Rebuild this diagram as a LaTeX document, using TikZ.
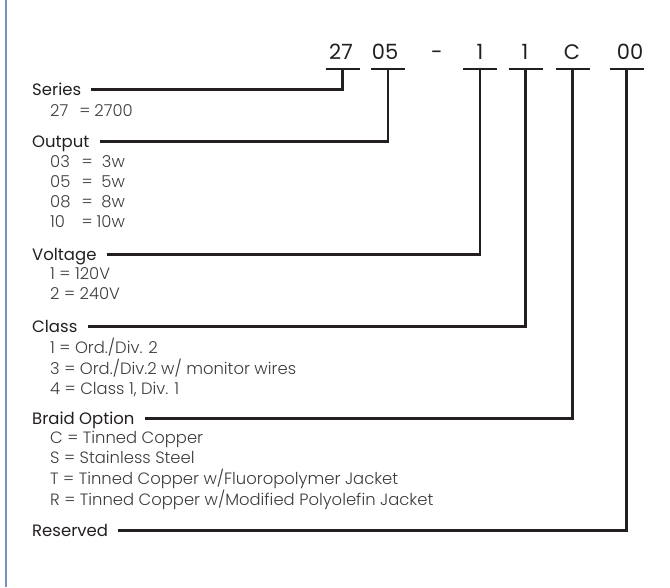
\documentclass[tikz,border=0pt]{standalone}
\usepackage{fontspec}
\setmainfont{Poppins}
\newfontfamily\lightfont{Poppins Light}
\definecolor{ink}{HTML}{231F20}
\definecolor{itemgray}{HTML}{3C3C3C}
\definecolor{edge}{HTML}{7A8FC9}
\begin{document}
\begin{tikzpicture}[x=1pt,y=-1pt,
  codetext/.style={font=\fontsize{21}{24}\selectfont, text=ink, anchor=base, inner sep=0pt},
  hdr/.style={font=\fontsize{16.5}{18}\selectfont, text=ink, anchor=base west, inner sep=0pt, text height=11pt, text depth=0pt},
  itemlist/.style={font=\lightfont\fontsize{16.4}{20}\selectfont, text=itemgray, anchor=base west, inner sep=0pt},
  wire/.style={draw=ink, line width=2.6pt, line join=miter},
  barline/.style={draw=ink, line width=2.6pt, line cap=butt}
]
\useasboundingbox (0,0) rectangle (670,587);
\draw[edge, line width=2pt] (6,0) -- (6,587);

% code characters
\node[codetext] (c27) at (341,59) {27};
\node[codetext] (c05) at (385,59) {05};
\node[codetext] (cdash) at (437,59) {-};
\node[codetext] (c1a) at (480,59) {1};
\node[codetext] (c1b) at (525,59) {1};
\node[codetext] (cC) at (572,59) {C};
\node[codetext] (c00) at (630,59) {00};

% bar centres
\coordinate (b27) at (342.5,69);
\coordinate (b05) at (388,69);
\coordinate (b1a) at (480,69);
\coordinate (b1b) at (525.5,69);
\coordinate (bC) at (572.5,69);
\coordinate (b00) at (626.5,69);
\foreach \b in {b27,b05,b1a,b1b,bC,b00}
  \draw[barline] ([xshift=-17pt]\b) -- ([xshift=17pt]\b);

% headers
\node[hdr] (hSeries) at (32,95) {Series};
\node[hdr] (hOutput) at (32,147) {Output};
\node[hdr] (hVoltage) at (32,260) {Voltage};
\node[hdr] (hClass) at (32,332) {Class};
\node[hdr] (hBraid) at (32,424) {Braid Option};
\node[hdr] (hReserved) at (32,536) {Reserved};

% item lists
\node[itemlist] (iSeries) at (50,116) {\begin{tabular}[t]{@{}l@{\hspace{11pt}}c@{\hspace{4pt}}l@{}}27 & = & 2700\end{tabular}};
\node[itemlist] (iOutput) at (50,167) {\begin{tabular}[t]{@{}l@{\hspace{11pt}}c@{\hspace{4pt}}r@{}}03 & = & 3w\\05 & = & 5w\\08 & = & 8w\\10 & = & 10w\end{tabular}};
\node[itemlist] (iVoltage) at (50,279) {\begin{tabular}[t]{@{}l@{}}1 = 120V\\2 = 240V\end{tabular}};
\node[itemlist] (iClass) at (50,353) {\begin{tabular}[t]{@{}l@{}}1 = Ord./Div. 2\\3 = Ord./Div.2 w/ monitor wires\\4 = Class 1, Div. 1\end{tabular}};
\node[itemlist] (iBraid) at (50,443) {\begin{tabular}[t]{@{}l@{}}C = Tinned Copper\\S = Stainless Steel\\T = Tinned Copper w/Fluoropolymer Jacket\\R = Tinned Copper w/Modified Polyolefin Jacket\end{tabular}};

% connectors
\draw[wire] ([xshift=10pt]hSeries.east) -- (hSeries.east -| b27) -- (b27);
\draw[wire] ([xshift=10pt]hOutput.east) -- (hOutput.east -| b05) -- (b05);
\draw[wire] ([xshift=10pt]hVoltage.east) -- (hVoltage.east -| b1a) -- (b1a);
\draw[wire] ([xshift=10pt]hClass.east) -- (hClass.east -| b1b) -- (b1b);
\draw[wire] ([xshift=10pt]hBraid.east) -- (hBraid.east -| bC) -- (bC);
\draw[wire] ([xshift=10pt]hReserved.east) -- (hReserved.east -| b00) -- (b00);
\end{tikzpicture}
\end{document}
